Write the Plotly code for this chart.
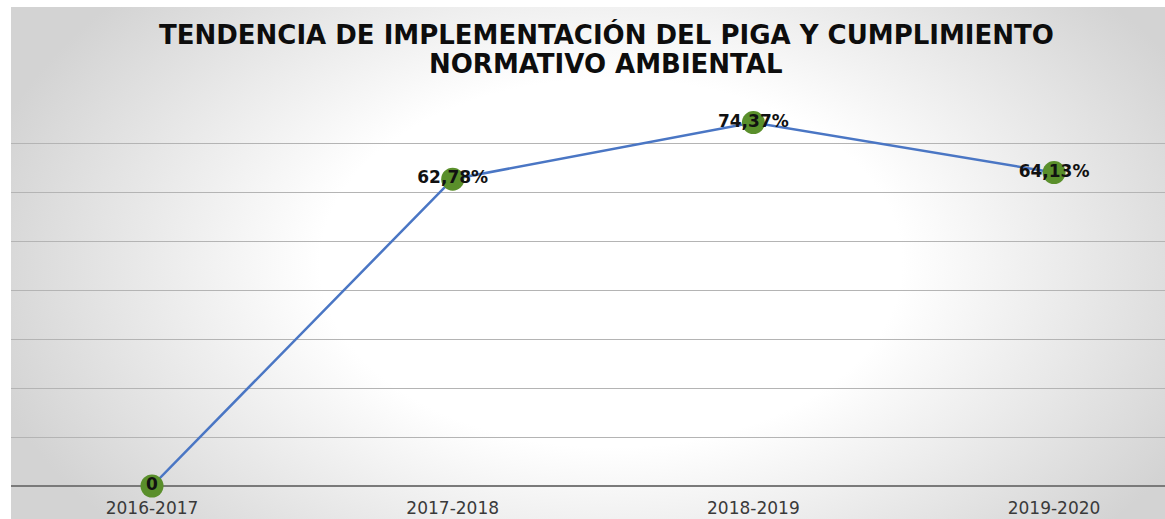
import base64
import plotly.graph_objects as go

# Data
periods = ["2016-2017", "2017-2018", "2018-2019", "2019-2020"]
compliance = [0, 62.78, 74.37, 64.13]
title_lines = [
    "TENDENCIA DE IMPLEMENTACIÓN DEL PIGA Y CUMPLIMIENTO",
    "NORMATIVO AMBIENTAL",
]


def fmt(v):
    if v == 0:
        return "0"
    return f"{v:.2f}".replace(".", ",") + "%"


labels = [fmt(v) for v in compliance]

# Soft elliptical background for the chart area
svg = (
    '<svg xmlns="http://www.w3.org/2000/svg" width="1154" height="512" '
    'preserveAspectRatio="none">'
    '<defs><radialGradient id="g" cx="0.52" cy="0.5" r="1" '
    'gradientTransform="translate(0.52 0.5) scale(0.56 0.8) translate(-0.52 -0.5)">'
    '<stop offset="0" stop-color="#ffffff"/>'
    '<stop offset="0.45" stop-color="#ffffff"/>'
    '<stop offset="1" stop-color="#d3d3d3"/>'
    '</radialGradient></defs>'
    '<rect width="1154" height="512" fill="url(#g)"/></svg>'
)
bg_src = "data:image/svg+xml;base64," + base64.b64encode(svg.encode()).decode()

fig = go.Figure()
fig.add_trace(
    go.Scatter(
        x=list(range(len(periods))),
        y=compliance,
        mode="lines+markers+text",
        line=dict(color="#4a76c4", width=2.5),
        marker=dict(size=23, color="#5a8f2b"),
        text=labels,
        textposition="middle center",
        textfont=dict(family="DejaVu Sans", size=17, color="#111111", weight="bold"),
        cliponaxis=False,
        hoverinfo="skip",
    )
)

W, H = 1165, 519
left, right, top, bottom = 11, 0, 95, 33
plot_h = H - top - bottom
plot_w = W - left - right


def py(px):
    # pixel row -> paper y
    return (H - bottom - px) / plot_h


annotations = []
for line, ypx in zip(title_lines, [34, 64]):
    annotations.append(
        dict(
            text=f"<b>{line}</b>",
            x=(606 - left) / plot_w,
            y=py(ypx),
            xref="paper",
            yref="paper",
            xanchor="center",
            yanchor="middle",
            showarrow=False,
            font=dict(family="DejaVu Sans", size=26, color="#0d0d0d"),
        )
    )

fig.update_layout(
    width=W,
    height=H,
    margin=dict(l=left, r=right, t=top, b=bottom),
    paper_bgcolor="white",
    plot_bgcolor="rgba(0,0,0,0)",
    showlegend=False,
    annotations=annotations,
    images=[
        dict(
            source=bg_src,
            xref="paper",
            yref="paper",
            x=0,
            y=py(7),
            sizex=1,
            sizey=py(7) - py(H),
            xanchor="left",
            yanchor="top",
            sizing="stretch",
            layer="below",
        )
    ],
    xaxis=dict(
        range=[-0.469, 3.369],
        tickmode="array",
        tickvals=list(range(len(periods))),
        ticktext=periods,
        showgrid=False,
        zeroline=False,
        showline=False,
        ticks="",
        ticklabelstandoff=10,
        tickfont=dict(family="DejaVu Sans", size=17, color="#3a3a3a"),
        fixedrange=True,
    ),
    yaxis=dict(
        range=[0, 80],
        dtick=10,
        showticklabels=False,
        showgrid=True,
        gridcolor="#b4b4b4",
        gridwidth=1,
        zeroline=True,
        zerolinecolor="#7a7a7a",
        zerolinewidth=2,
        showline=False,
        fixedrange=True,
    ),
)

fig.write_html("out.html")
